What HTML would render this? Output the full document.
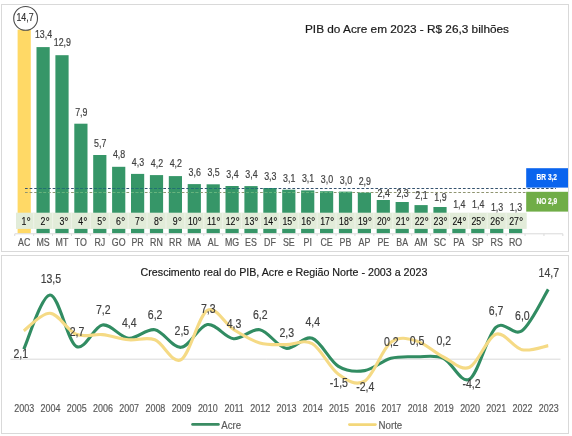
<!DOCTYPE html>
<html><head><meta charset="utf-8"><style>
html,body{margin:0;padding:0;background:#fff;}
svg{display:block;font-family:"Liberation Sans", sans-serif;will-change:transform;}
</style></head><body>
<svg width="572" height="436" viewBox="0 0 572 436">
<rect x="1.5" y="4.5" width="567" height="247" fill="#fff" stroke="#d9d9d9" stroke-width="1"/>
<rect x="1.5" y="255.5" width="567" height="178" fill="#fff" stroke="#d9d9d9" stroke-width="1"/>
<rect x="17.60" y="29.60" width="13.2" height="203.70" fill="#ffd966"/>
<rect x="36.50" y="47.10" width="13.2" height="186.20" fill="#369668"/>
<rect x="55.40" y="55.20" width="13.2" height="178.10" fill="#369668"/>
<rect x="74.30" y="123.70" width="13.2" height="109.60" fill="#369668"/>
<rect x="93.20" y="155.00" width="13.2" height="78.30" fill="#369668"/>
<rect x="112.10" y="166.80" width="13.2" height="66.50" fill="#369668"/>
<rect x="131.00" y="173.90" width="13.2" height="59.40" fill="#369668"/>
<rect x="149.90" y="175.10" width="13.2" height="58.20" fill="#369668"/>
<rect x="168.80" y="176.10" width="13.2" height="57.20" fill="#369668"/>
<rect x="187.70" y="184.10" width="13.2" height="49.20" fill="#369668"/>
<rect x="206.60" y="184.30" width="13.2" height="49.00" fill="#369668"/>
<rect x="225.50" y="186.00" width="13.2" height="47.30" fill="#369668"/>
<rect x="244.40" y="186.10" width="13.2" height="47.20" fill="#369668"/>
<rect x="263.30" y="188.00" width="13.2" height="45.30" fill="#369668"/>
<rect x="282.20" y="189.70" width="13.2" height="43.60" fill="#369668"/>
<rect x="301.10" y="190.40" width="13.2" height="42.90" fill="#369668"/>
<rect x="320.00" y="191.20" width="13.2" height="42.10" fill="#369668"/>
<rect x="338.90" y="191.60" width="13.2" height="41.70" fill="#369668"/>
<rect x="357.80" y="192.60" width="13.2" height="40.70" fill="#369668"/>
<rect x="376.70" y="200.00" width="13.2" height="33.30" fill="#369668"/>
<rect x="395.60" y="202.00" width="13.2" height="31.30" fill="#369668"/>
<rect x="414.50" y="205.10" width="13.2" height="28.20" fill="#369668"/>
<rect x="433.40" y="207.00" width="13.2" height="26.30" fill="#369668"/>
<rect x="452.30" y="213.94" width="13.2" height="19.36" fill="#369668"/>
<rect x="471.20" y="213.94" width="13.2" height="19.36" fill="#369668"/>
<rect x="490.10" y="215.32" width="13.2" height="17.98" fill="#369668"/>
<rect x="509.00" y="215.32" width="13.2" height="17.98" fill="#369668"/>
<line x1="25" y1="188.5" x2="556" y2="188.5" stroke="#34526e" stroke-width="1" stroke-dasharray="2.7 1.91"/>
<line x1="25" y1="192.5" x2="526" y2="192.5" stroke="#8f9470" stroke-width="1" stroke-dasharray="2.7 1.91"/>
<clipPath id="bc"><rect x="36.50" y="47.10" width="13.2" height="186.20"/><rect x="55.40" y="55.20" width="13.2" height="178.10"/><rect x="74.30" y="123.70" width="13.2" height="109.60"/><rect x="93.20" y="155.00" width="13.2" height="78.30"/><rect x="112.10" y="166.80" width="13.2" height="66.50"/><rect x="131.00" y="173.90" width="13.2" height="59.40"/><rect x="149.90" y="175.10" width="13.2" height="58.20"/><rect x="168.80" y="176.10" width="13.2" height="57.20"/><rect x="187.70" y="184.10" width="13.2" height="49.20"/><rect x="206.60" y="184.30" width="13.2" height="49.00"/><rect x="225.50" y="186.00" width="13.2" height="47.30"/><rect x="244.40" y="186.10" width="13.2" height="47.20"/><rect x="263.30" y="188.00" width="13.2" height="45.30"/><rect x="282.20" y="189.70" width="13.2" height="43.60"/><rect x="301.10" y="190.40" width="13.2" height="42.90"/><rect x="320.00" y="191.20" width="13.2" height="42.10"/><rect x="338.90" y="191.60" width="13.2" height="41.70"/><rect x="357.80" y="192.60" width="13.2" height="40.70"/><rect x="376.70" y="200.00" width="13.2" height="33.30"/><rect x="395.60" y="202.00" width="13.2" height="31.30"/><rect x="414.50" y="205.10" width="13.2" height="28.20"/><rect x="433.40" y="207.00" width="13.2" height="26.30"/></clipPath>
<g clip-path="url(#bc)"><line x1="25" y1="188.5" x2="556" y2="188.5" stroke="#1f7373" stroke-width="1" stroke-dasharray="2.7 1.91"/><line x1="25" y1="192.5" x2="526" y2="192.5" stroke="#62b77e" stroke-width="1" stroke-dasharray="2.7 1.91"/></g>
<rect x="16" y="212.7" width="510.7" height="16.2" fill="#e2ecd9"/>
<rect x="33.05" y="212.7" width="1.2" height="16.2" fill="#edf2e6"/>
<rect x="51.95" y="212.7" width="1.2" height="16.2" fill="#edf2e6"/>
<rect x="70.85" y="212.7" width="1.2" height="16.2" fill="#edf2e6"/>
<rect x="89.75" y="212.7" width="1.2" height="16.2" fill="#edf2e6"/>
<rect x="108.65" y="212.7" width="1.2" height="16.2" fill="#edf2e6"/>
<rect x="127.55" y="212.7" width="1.2" height="16.2" fill="#edf2e6"/>
<rect x="146.45" y="212.7" width="1.2" height="16.2" fill="#edf2e6"/>
<rect x="165.35" y="212.7" width="1.2" height="16.2" fill="#edf2e6"/>
<rect x="184.25" y="212.7" width="1.2" height="16.2" fill="#edf2e6"/>
<rect x="203.15" y="212.7" width="1.2" height="16.2" fill="#edf2e6"/>
<rect x="222.05" y="212.7" width="1.2" height="16.2" fill="#edf2e6"/>
<rect x="240.95" y="212.7" width="1.2" height="16.2" fill="#edf2e6"/>
<rect x="259.85" y="212.7" width="1.2" height="16.2" fill="#edf2e6"/>
<rect x="278.75" y="212.7" width="1.2" height="16.2" fill="#edf2e6"/>
<rect x="297.65" y="212.7" width="1.2" height="16.2" fill="#edf2e6"/>
<rect x="316.55" y="212.7" width="1.2" height="16.2" fill="#edf2e6"/>
<rect x="335.45" y="212.7" width="1.2" height="16.2" fill="#edf2e6"/>
<rect x="354.35" y="212.7" width="1.2" height="16.2" fill="#edf2e6"/>
<rect x="373.25" y="212.7" width="1.2" height="16.2" fill="#edf2e6"/>
<rect x="392.15" y="212.7" width="1.2" height="16.2" fill="#edf2e6"/>
<rect x="411.05" y="212.7" width="1.2" height="16.2" fill="#edf2e6"/>
<rect x="429.95" y="212.7" width="1.2" height="16.2" fill="#edf2e6"/>
<rect x="448.85" y="212.7" width="1.2" height="16.2" fill="#edf2e6"/>
<rect x="467.75" y="212.7" width="1.2" height="16.2" fill="#edf2e6"/>
<rect x="486.65" y="212.7" width="1.2" height="16.2" fill="#edf2e6"/>
<rect x="505.55" y="212.7" width="1.2" height="16.2" fill="#edf2e6"/>
<line x1="14.75" y1="233.8" x2="562.85" y2="233.8" stroke="#d9d9d9" stroke-width="1"/>
<line x1="14.75" y1="233.8" x2="14.75" y2="236" stroke="#d9d9d9" stroke-width="1"/>
<line x1="33.65" y1="233.8" x2="33.65" y2="236" stroke="#d9d9d9" stroke-width="1"/>
<line x1="52.55" y1="233.8" x2="52.55" y2="236" stroke="#d9d9d9" stroke-width="1"/>
<line x1="71.45" y1="233.8" x2="71.45" y2="236" stroke="#d9d9d9" stroke-width="1"/>
<line x1="90.35" y1="233.8" x2="90.35" y2="236" stroke="#d9d9d9" stroke-width="1"/>
<line x1="109.25" y1="233.8" x2="109.25" y2="236" stroke="#d9d9d9" stroke-width="1"/>
<line x1="128.15" y1="233.8" x2="128.15" y2="236" stroke="#d9d9d9" stroke-width="1"/>
<line x1="147.05" y1="233.8" x2="147.05" y2="236" stroke="#d9d9d9" stroke-width="1"/>
<line x1="165.95" y1="233.8" x2="165.95" y2="236" stroke="#d9d9d9" stroke-width="1"/>
<line x1="184.85" y1="233.8" x2="184.85" y2="236" stroke="#d9d9d9" stroke-width="1"/>
<line x1="203.75" y1="233.8" x2="203.75" y2="236" stroke="#d9d9d9" stroke-width="1"/>
<line x1="222.65" y1="233.8" x2="222.65" y2="236" stroke="#d9d9d9" stroke-width="1"/>
<line x1="241.55" y1="233.8" x2="241.55" y2="236" stroke="#d9d9d9" stroke-width="1"/>
<line x1="260.45" y1="233.8" x2="260.45" y2="236" stroke="#d9d9d9" stroke-width="1"/>
<line x1="279.35" y1="233.8" x2="279.35" y2="236" stroke="#d9d9d9" stroke-width="1"/>
<line x1="298.25" y1="233.8" x2="298.25" y2="236" stroke="#d9d9d9" stroke-width="1"/>
<line x1="317.15" y1="233.8" x2="317.15" y2="236" stroke="#d9d9d9" stroke-width="1"/>
<line x1="336.05" y1="233.8" x2="336.05" y2="236" stroke="#d9d9d9" stroke-width="1"/>
<line x1="354.95" y1="233.8" x2="354.95" y2="236" stroke="#d9d9d9" stroke-width="1"/>
<line x1="373.85" y1="233.8" x2="373.85" y2="236" stroke="#d9d9d9" stroke-width="1"/>
<line x1="392.75" y1="233.8" x2="392.75" y2="236" stroke="#d9d9d9" stroke-width="1"/>
<line x1="411.65" y1="233.8" x2="411.65" y2="236" stroke="#d9d9d9" stroke-width="1"/>
<line x1="430.55" y1="233.8" x2="430.55" y2="236" stroke="#d9d9d9" stroke-width="1"/>
<line x1="449.45" y1="233.8" x2="449.45" y2="236" stroke="#d9d9d9" stroke-width="1"/>
<line x1="468.35" y1="233.8" x2="468.35" y2="236" stroke="#d9d9d9" stroke-width="1"/>
<line x1="487.25" y1="233.8" x2="487.25" y2="236" stroke="#d9d9d9" stroke-width="1"/>
<line x1="506.15" y1="233.8" x2="506.15" y2="236" stroke="#d9d9d9" stroke-width="1"/>
<line x1="525.05" y1="233.8" x2="525.05" y2="236" stroke="#d9d9d9" stroke-width="1"/>
<line x1="543.95" y1="233.8" x2="543.95" y2="236" stroke="#d9d9d9" stroke-width="1"/>
<line x1="562.85" y1="233.8" x2="562.85" y2="236" stroke="#d9d9d9" stroke-width="1"/>
<text transform="translate(26.20,224.7) scale(0.86,1)" font-size="10.2" fill="#111111" stroke="#111111" stroke-width="0.12" text-anchor="middle">1<tspan font-size="12.5" dy="1.1">°</tspan></text>
<text transform="translate(45.10,224.7) scale(0.86,1)" font-size="10.2" fill="#111111" stroke="#111111" stroke-width="0.12" text-anchor="middle">2<tspan font-size="12.5" dy="1.1">°</tspan></text>
<text transform="translate(64.00,224.7) scale(0.86,1)" font-size="10.2" fill="#111111" stroke="#111111" stroke-width="0.12" text-anchor="middle">3<tspan font-size="12.5" dy="1.1">°</tspan></text>
<text transform="translate(82.90,224.7) scale(0.86,1)" font-size="10.2" fill="#111111" stroke="#111111" stroke-width="0.12" text-anchor="middle">4<tspan font-size="12.5" dy="1.1">°</tspan></text>
<text transform="translate(101.80,224.7) scale(0.86,1)" font-size="10.2" fill="#111111" stroke="#111111" stroke-width="0.12" text-anchor="middle">5<tspan font-size="12.5" dy="1.1">°</tspan></text>
<text transform="translate(120.70,224.7) scale(0.86,1)" font-size="10.2" fill="#111111" stroke="#111111" stroke-width="0.12" text-anchor="middle">6<tspan font-size="12.5" dy="1.1">°</tspan></text>
<text transform="translate(139.60,224.7) scale(0.86,1)" font-size="10.2" fill="#111111" stroke="#111111" stroke-width="0.12" text-anchor="middle">7<tspan font-size="12.5" dy="1.1">°</tspan></text>
<text transform="translate(158.50,224.7) scale(0.86,1)" font-size="10.2" fill="#111111" stroke="#111111" stroke-width="0.12" text-anchor="middle">8<tspan font-size="12.5" dy="1.1">°</tspan></text>
<text transform="translate(177.40,224.7) scale(0.86,1)" font-size="10.2" fill="#111111" stroke="#111111" stroke-width="0.12" text-anchor="middle">9<tspan font-size="12.5" dy="1.1">°</tspan></text>
<text transform="translate(194.90,224.7) scale(0.86,1)" font-size="10.2" fill="#111111" stroke="#111111" stroke-width="0.12" text-anchor="middle">10<tspan font-size="12.5" dy="1.1">°</tspan></text>
<text transform="translate(213.80,224.7) scale(0.86,1)" font-size="10.2" fill="#111111" stroke="#111111" stroke-width="0.12" text-anchor="middle">11<tspan font-size="12.5" dy="1.1">°</tspan></text>
<text transform="translate(232.70,224.7) scale(0.86,1)" font-size="10.2" fill="#111111" stroke="#111111" stroke-width="0.12" text-anchor="middle">12<tspan font-size="12.5" dy="1.1">°</tspan></text>
<text transform="translate(251.60,224.7) scale(0.86,1)" font-size="10.2" fill="#111111" stroke="#111111" stroke-width="0.12" text-anchor="middle">13<tspan font-size="12.5" dy="1.1">°</tspan></text>
<text transform="translate(270.50,224.7) scale(0.86,1)" font-size="10.2" fill="#111111" stroke="#111111" stroke-width="0.12" text-anchor="middle">14<tspan font-size="12.5" dy="1.1">°</tspan></text>
<text transform="translate(289.40,224.7) scale(0.86,1)" font-size="10.2" fill="#111111" stroke="#111111" stroke-width="0.12" text-anchor="middle">15<tspan font-size="12.5" dy="1.1">°</tspan></text>
<text transform="translate(308.30,224.7) scale(0.86,1)" font-size="10.2" fill="#111111" stroke="#111111" stroke-width="0.12" text-anchor="middle">16<tspan font-size="12.5" dy="1.1">°</tspan></text>
<text transform="translate(327.20,224.7) scale(0.86,1)" font-size="10.2" fill="#111111" stroke="#111111" stroke-width="0.12" text-anchor="middle">17<tspan font-size="12.5" dy="1.1">°</tspan></text>
<text transform="translate(346.10,224.7) scale(0.86,1)" font-size="10.2" fill="#111111" stroke="#111111" stroke-width="0.12" text-anchor="middle">18<tspan font-size="12.5" dy="1.1">°</tspan></text>
<text transform="translate(365.00,224.7) scale(0.86,1)" font-size="10.2" fill="#111111" stroke="#111111" stroke-width="0.12" text-anchor="middle">19<tspan font-size="12.5" dy="1.1">°</tspan></text>
<text transform="translate(383.90,224.7) scale(0.86,1)" font-size="10.2" fill="#111111" stroke="#111111" stroke-width="0.12" text-anchor="middle">20<tspan font-size="12.5" dy="1.1">°</tspan></text>
<text transform="translate(402.80,224.7) scale(0.86,1)" font-size="10.2" fill="#111111" stroke="#111111" stroke-width="0.12" text-anchor="middle">21<tspan font-size="12.5" dy="1.1">°</tspan></text>
<text transform="translate(421.70,224.7) scale(0.86,1)" font-size="10.2" fill="#111111" stroke="#111111" stroke-width="0.12" text-anchor="middle">22<tspan font-size="12.5" dy="1.1">°</tspan></text>
<text transform="translate(440.60,224.7) scale(0.86,1)" font-size="10.2" fill="#111111" stroke="#111111" stroke-width="0.12" text-anchor="middle">23<tspan font-size="12.5" dy="1.1">°</tspan></text>
<text transform="translate(459.50,224.7) scale(0.86,1)" font-size="10.2" fill="#111111" stroke="#111111" stroke-width="0.12" text-anchor="middle">24<tspan font-size="12.5" dy="1.1">°</tspan></text>
<text transform="translate(478.40,224.7) scale(0.86,1)" font-size="10.2" fill="#111111" stroke="#111111" stroke-width="0.12" text-anchor="middle">25<tspan font-size="12.5" dy="1.1">°</tspan></text>
<text transform="translate(497.30,224.7) scale(0.86,1)" font-size="10.2" fill="#111111" stroke="#111111" stroke-width="0.12" text-anchor="middle">26<tspan font-size="12.5" dy="1.1">°</tspan></text>
<text transform="translate(516.20,224.7) scale(0.86,1)" font-size="10.2" fill="#111111" stroke="#111111" stroke-width="0.12" text-anchor="middle">27<tspan font-size="12.5" dy="1.1">°</tspan></text>
<text transform="translate(24.20,246.00) scale(0.86,1)" font-size="10.3" fill="#595959" stroke="#595959" stroke-width="0.2" text-anchor="middle" font-weight="normal" >AC</text>
<text transform="translate(43.10,246.00) scale(0.86,1)" font-size="10.3" fill="#595959" stroke="#595959" stroke-width="0.2" text-anchor="middle" font-weight="normal" >MS</text>
<text transform="translate(62.00,246.00) scale(0.86,1)" font-size="10.3" fill="#595959" stroke="#595959" stroke-width="0.2" text-anchor="middle" font-weight="normal" >MT</text>
<text transform="translate(80.90,246.00) scale(0.86,1)" font-size="10.3" fill="#595959" stroke="#595959" stroke-width="0.2" text-anchor="middle" font-weight="normal" >TO</text>
<text transform="translate(99.80,246.00) scale(0.86,1)" font-size="10.3" fill="#595959" stroke="#595959" stroke-width="0.2" text-anchor="middle" font-weight="normal" >RJ</text>
<text transform="translate(118.70,246.00) scale(0.86,1)" font-size="10.3" fill="#595959" stroke="#595959" stroke-width="0.2" text-anchor="middle" font-weight="normal" >GO</text>
<text transform="translate(137.60,246.00) scale(0.86,1)" font-size="10.3" fill="#595959" stroke="#595959" stroke-width="0.2" text-anchor="middle" font-weight="normal" >PR</text>
<text transform="translate(156.50,246.00) scale(0.86,1)" font-size="10.3" fill="#595959" stroke="#595959" stroke-width="0.2" text-anchor="middle" font-weight="normal" >RN</text>
<text transform="translate(175.40,246.00) scale(0.86,1)" font-size="10.3" fill="#595959" stroke="#595959" stroke-width="0.2" text-anchor="middle" font-weight="normal" >RR</text>
<text transform="translate(194.30,246.00) scale(0.86,1)" font-size="10.3" fill="#595959" stroke="#595959" stroke-width="0.2" text-anchor="middle" font-weight="normal" >MA</text>
<text transform="translate(213.20,246.00) scale(0.86,1)" font-size="10.3" fill="#595959" stroke="#595959" stroke-width="0.2" text-anchor="middle" font-weight="normal" >AL</text>
<text transform="translate(232.10,246.00) scale(0.86,1)" font-size="10.3" fill="#595959" stroke="#595959" stroke-width="0.2" text-anchor="middle" font-weight="normal" >MG</text>
<text transform="translate(251.00,246.00) scale(0.86,1)" font-size="10.3" fill="#595959" stroke="#595959" stroke-width="0.2" text-anchor="middle" font-weight="normal" >ES</text>
<text transform="translate(269.90,246.00) scale(0.86,1)" font-size="10.3" fill="#595959" stroke="#595959" stroke-width="0.2" text-anchor="middle" font-weight="normal" >DF</text>
<text transform="translate(288.80,246.00) scale(0.86,1)" font-size="10.3" fill="#595959" stroke="#595959" stroke-width="0.2" text-anchor="middle" font-weight="normal" >SE</text>
<text transform="translate(307.70,246.00) scale(0.86,1)" font-size="10.3" fill="#595959" stroke="#595959" stroke-width="0.2" text-anchor="middle" font-weight="normal" >PI</text>
<text transform="translate(326.60,246.00) scale(0.86,1)" font-size="10.3" fill="#595959" stroke="#595959" stroke-width="0.2" text-anchor="middle" font-weight="normal" >CE</text>
<text transform="translate(345.50,246.00) scale(0.86,1)" font-size="10.3" fill="#595959" stroke="#595959" stroke-width="0.2" text-anchor="middle" font-weight="normal" >PB</text>
<text transform="translate(364.40,246.00) scale(0.86,1)" font-size="10.3" fill="#595959" stroke="#595959" stroke-width="0.2" text-anchor="middle" font-weight="normal" >AP</text>
<text transform="translate(383.30,246.00) scale(0.86,1)" font-size="10.3" fill="#595959" stroke="#595959" stroke-width="0.2" text-anchor="middle" font-weight="normal" >PE</text>
<text transform="translate(402.20,246.00) scale(0.86,1)" font-size="10.3" fill="#595959" stroke="#595959" stroke-width="0.2" text-anchor="middle" font-weight="normal" >BA</text>
<text transform="translate(421.10,246.00) scale(0.86,1)" font-size="10.3" fill="#595959" stroke="#595959" stroke-width="0.2" text-anchor="middle" font-weight="normal" >AM</text>
<text transform="translate(440.00,246.00) scale(0.86,1)" font-size="10.3" fill="#595959" stroke="#595959" stroke-width="0.2" text-anchor="middle" font-weight="normal" >SC</text>
<text transform="translate(458.90,246.00) scale(0.86,1)" font-size="10.3" fill="#595959" stroke="#595959" stroke-width="0.2" text-anchor="middle" font-weight="normal" >PA</text>
<text transform="translate(477.80,246.00) scale(0.86,1)" font-size="10.3" fill="#595959" stroke="#595959" stroke-width="0.2" text-anchor="middle" font-weight="normal" >SP</text>
<text transform="translate(496.70,246.00) scale(0.86,1)" font-size="10.3" fill="#595959" stroke="#595959" stroke-width="0.2" text-anchor="middle" font-weight="normal" >RS</text>
<text transform="translate(515.60,246.00) scale(0.86,1)" font-size="10.3" fill="#595959" stroke="#595959" stroke-width="0.2" text-anchor="middle" font-weight="normal" >RO</text>
<text transform="translate(43.50,37.70) scale(0.86,1)" font-size="10.3" fill="#404040" stroke="#404040" stroke-width="0.18" text-anchor="middle" font-weight="normal" >13,4</text>
<text transform="translate(62.40,45.70) scale(0.86,1)" font-size="10.3" fill="#404040" stroke="#404040" stroke-width="0.18" text-anchor="middle" font-weight="normal" >12,9</text>
<text transform="translate(81.30,115.90) scale(0.86,1)" font-size="10.3" fill="#404040" stroke="#404040" stroke-width="0.18" text-anchor="middle" font-weight="normal" >7,9</text>
<text transform="translate(100.20,147.20) scale(0.86,1)" font-size="10.3" fill="#404040" stroke="#404040" stroke-width="0.18" text-anchor="middle" font-weight="normal" >5,7</text>
<text transform="translate(119.10,158.20) scale(0.86,1)" font-size="10.3" fill="#404040" stroke="#404040" stroke-width="0.18" text-anchor="middle" font-weight="normal" >4,8</text>
<text transform="translate(138.00,166.00) scale(0.86,1)" font-size="10.3" fill="#404040" stroke="#404040" stroke-width="0.18" text-anchor="middle" font-weight="normal" >4,3</text>
<text transform="translate(156.90,166.60) scale(0.86,1)" font-size="10.3" fill="#404040" stroke="#404040" stroke-width="0.18" text-anchor="middle" font-weight="normal" >4,2</text>
<text transform="translate(175.80,167.30) scale(0.86,1)" font-size="10.3" fill="#404040" stroke="#404040" stroke-width="0.18" text-anchor="middle" font-weight="normal" >4,2</text>
<text transform="translate(194.70,175.90) scale(0.86,1)" font-size="10.3" fill="#404040" stroke="#404040" stroke-width="0.18" text-anchor="middle" font-weight="normal" >3,6</text>
<text transform="translate(213.60,175.90) scale(0.86,1)" font-size="10.3" fill="#404040" stroke="#404040" stroke-width="0.18" text-anchor="middle" font-weight="normal" >3,5</text>
<text transform="translate(232.50,178.40) scale(0.86,1)" font-size="10.3" fill="#404040" stroke="#404040" stroke-width="0.18" text-anchor="middle" font-weight="normal" >3,4</text>
<text transform="translate(251.40,178.40) scale(0.86,1)" font-size="10.3" fill="#404040" stroke="#404040" stroke-width="0.18" text-anchor="middle" font-weight="normal" >3,4</text>
<text transform="translate(270.30,179.60) scale(0.86,1)" font-size="10.3" fill="#404040" stroke="#404040" stroke-width="0.18" text-anchor="middle" font-weight="normal" >3,3</text>
<text transform="translate(289.20,181.50) scale(0.86,1)" font-size="10.3" fill="#404040" stroke="#404040" stroke-width="0.18" text-anchor="middle" font-weight="normal" >3,1</text>
<text transform="translate(308.10,181.50) scale(0.86,1)" font-size="10.3" fill="#404040" stroke="#404040" stroke-width="0.18" text-anchor="middle" font-weight="normal" >3,1</text>
<text transform="translate(327.00,183.00) scale(0.86,1)" font-size="10.3" fill="#404040" stroke="#404040" stroke-width="0.18" text-anchor="middle" font-weight="normal" >3,0</text>
<text transform="translate(345.90,183.90) scale(0.86,1)" font-size="10.3" fill="#404040" stroke="#404040" stroke-width="0.18" text-anchor="middle" font-weight="normal" >3,0</text>
<text transform="translate(364.80,184.80) scale(0.86,1)" font-size="10.3" fill="#404040" stroke="#404040" stroke-width="0.18" text-anchor="middle" font-weight="normal" >2,9</text>
<text transform="translate(383.70,196.50) scale(0.86,1)" font-size="10.3" fill="#404040" stroke="#404040" stroke-width="0.18" text-anchor="middle" font-weight="normal" >2,4</text>
<text transform="translate(402.60,196.50) scale(0.86,1)" font-size="10.3" fill="#404040" stroke="#404040" stroke-width="0.18" text-anchor="middle" font-weight="normal" >2,3</text>
<text transform="translate(421.50,198.90) scale(0.86,1)" font-size="10.3" fill="#404040" stroke="#404040" stroke-width="0.18" text-anchor="middle" font-weight="normal" >2,1</text>
<text transform="translate(440.40,200.50) scale(0.86,1)" font-size="10.3" fill="#404040" stroke="#404040" stroke-width="0.18" text-anchor="middle" font-weight="normal" >1,9</text>
<text transform="translate(459.30,208.00) scale(0.86,1)" font-size="10.3" fill="#404040" stroke="#404040" stroke-width="0.18" text-anchor="middle" font-weight="normal" >1,4</text>
<text transform="translate(478.20,208.00) scale(0.86,1)" font-size="10.3" fill="#404040" stroke="#404040" stroke-width="0.18" text-anchor="middle" font-weight="normal" >1,4</text>
<text transform="translate(497.10,210.70) scale(0.86,1)" font-size="10.3" fill="#404040" stroke="#404040" stroke-width="0.18" text-anchor="middle" font-weight="normal" >1,3</text>
<text transform="translate(516.00,210.70) scale(0.86,1)" font-size="10.3" fill="#404040" stroke="#404040" stroke-width="0.18" text-anchor="middle" font-weight="normal" >1,3</text>
<circle cx="25.6" cy="18.4" r="11.9" fill="#fff" stroke="#4a4a4a" stroke-width="1.1"/>
<text transform="translate(25.00,20.60) scale(0.86,1)" font-size="10.3" fill="#333333" stroke="#333333" stroke-width="0.18" text-anchor="middle" font-weight="normal" >14,7</text>
<text x="305" y="32.9" font-size="11.5" fill="#1a1a1a" stroke="#1a1a1a" stroke-width="0.2" textLength="204" lengthAdjust="spacingAndGlyphs">PIB do Acre em 2023 - R$ 26,3 bilhões</text>
<rect x="526.2" y="168.2" width="41.8" height="19.4" fill="#0a64ee"/>
<text transform="translate(546.80,180.20) scale(0.8,1)" font-size="8.2" fill="#ffffff" stroke="#ffffff" stroke-width="0.18" text-anchor="middle" font-weight="bold" >BR 3,2</text>
<rect x="526.2" y="191.8" width="41.8" height="19.8" fill="#70ad47"/>
<text transform="translate(546.80,204.30) scale(0.8,1)" font-size="8.2" fill="#ffffff" stroke="#ffffff" stroke-width="0.18" text-anchor="middle" font-weight="bold" >NO 2,9</text>
<text x="140.6" y="276" font-size="11.5" fill="#1a1a1a" stroke="#1a1a1a" stroke-width="0.2" textLength="286.8" lengthAdjust="spacingAndGlyphs">Crescimento real do PIB, Acre e Região Norte - 2003 a 2023</text>
<line x1="10.5" y1="359.2" x2="560.5" y2="359.2" stroke="#d9d9d9" stroke-width="1"/>
<path d="M23.75,349.22 C28.12,340.20 41.23,295.55 49.98,295.07 C58.72,294.60 67.46,341.39 76.20,346.38 C84.94,351.36 93.68,326.35 102.43,325.00 C111.17,323.65 119.91,337.51 128.65,338.30 C137.39,339.09 146.13,328.25 154.88,329.75 C163.62,331.25 172.36,348.20 181.10,347.32 C189.84,346.45 198.58,325.95 207.33,324.52 C216.07,323.10 224.81,337.90 233.55,338.77 C242.29,339.65 251.03,328.17 259.77,329.75 C268.52,331.33 277.26,346.85 286.00,348.27 C294.74,349.70 303.48,335.29 312.23,338.30 C320.97,341.31 329.71,360.94 338.45,366.32 C347.19,371.71 355.93,371.95 364.68,370.60 C373.42,369.25 382.16,360.55 390.90,358.25 C399.64,355.95 408.38,356.82 417.12,356.82 C425.87,356.82 434.61,354.53 443.35,358.25 C452.09,361.97 460.83,384.30 469.58,379.15 C478.32,374.00 487.06,335.45 495.80,327.38 C504.54,319.30 513.28,337.03 522.03,330.70 C530.77,324.37 543.88,296.26 548.25,289.38" fill="none" stroke="#318c62" stroke-width="3.1" stroke-linecap="butt" stroke-linejoin="round"/>
<path d="M23.75,330.79 C28.12,327.87 41.23,312.63 49.98,313.22 C58.72,313.81 67.46,330.75 76.20,334.31 C84.94,337.87 93.68,333.68 102.43,334.59 C111.17,335.51 119.91,338.95 128.65,339.82 C137.39,340.69 146.13,336.51 154.88,339.82 C163.62,343.13 172.36,364.58 181.10,359.68 C189.84,354.77 198.58,315.44 207.33,310.42 C216.07,305.39 224.81,324.10 233.55,329.51 C242.29,334.93 251.03,340.39 259.77,342.91 C268.52,345.42 277.26,344.50 286.00,344.62 C294.74,344.74 303.48,338.69 312.23,343.62 C320.97,348.55 329.71,367.97 338.45,374.21 C347.19,380.45 355.93,386.36 364.68,381.05 C373.42,375.74 382.16,348.99 390.90,342.34 C399.64,335.69 408.38,338.70 417.12,341.15 C425.87,343.60 434.61,352.66 443.35,357.01 C452.09,361.37 460.83,371.07 469.58,367.27 C478.32,363.47 487.06,337.14 495.80,334.21 C504.54,331.29 513.28,347.80 522.03,349.70 C530.77,351.60 543.88,346.30 548.25,345.62" fill="none" stroke="#f5da85" stroke-width="3.1" stroke-linecap="butt" stroke-linejoin="round"/>
<text transform="translate(20.70,358.40) scale(0.81,1)" font-size="13.0" fill="#404040" stroke="#404040" stroke-width="0.18" text-anchor="middle" font-weight="normal" >2,1</text>
<text transform="translate(50.90,283.30) scale(0.81,1)" font-size="13.0" fill="#404040" stroke="#404040" stroke-width="0.18" text-anchor="middle" font-weight="normal" >13,5</text>
<text transform="translate(77.00,335.70) scale(0.81,1)" font-size="13.0" fill="#404040" stroke="#404040" stroke-width="0.18" text-anchor="middle" font-weight="normal" >2,7</text>
<text transform="translate(103.20,313.60) scale(0.81,1)" font-size="13.0" fill="#404040" stroke="#404040" stroke-width="0.18" text-anchor="middle" font-weight="normal" >7,2</text>
<text transform="translate(129.30,326.50) scale(0.81,1)" font-size="13.0" fill="#404040" stroke="#404040" stroke-width="0.18" text-anchor="middle" font-weight="normal" >4,4</text>
<text transform="translate(155.10,318.60) scale(0.81,1)" font-size="13.0" fill="#404040" stroke="#404040" stroke-width="0.18" text-anchor="middle" font-weight="normal" >6,2</text>
<text transform="translate(181.90,335.30) scale(0.81,1)" font-size="13.0" fill="#404040" stroke="#404040" stroke-width="0.18" text-anchor="middle" font-weight="normal" >2,5</text>
<text transform="translate(208.20,313.00) scale(0.81,1)" font-size="13.0" fill="#404040" stroke="#404040" stroke-width="0.18" text-anchor="middle" font-weight="normal" >7,3</text>
<text transform="translate(234.00,327.50) scale(0.81,1)" font-size="13.0" fill="#404040" stroke="#404040" stroke-width="0.18" text-anchor="middle" font-weight="normal" >4,3</text>
<text transform="translate(260.30,318.60) scale(0.81,1)" font-size="13.0" fill="#404040" stroke="#404040" stroke-width="0.18" text-anchor="middle" font-weight="normal" >6,2</text>
<text transform="translate(286.80,336.50) scale(0.81,1)" font-size="13.0" fill="#404040" stroke="#404040" stroke-width="0.18" text-anchor="middle" font-weight="normal" >2,3</text>
<text transform="translate(312.70,326.10) scale(0.81,1)" font-size="13.0" fill="#404040" stroke="#404040" stroke-width="0.18" text-anchor="middle" font-weight="normal" >4,4</text>
<text transform="translate(338.90,386.90) scale(0.81,1)" font-size="13.0" fill="#404040" stroke="#404040" stroke-width="0.18" text-anchor="middle" font-weight="normal" >-1,5</text>
<text transform="translate(365.30,390.80) scale(0.81,1)" font-size="13.0" fill="#404040" stroke="#404040" stroke-width="0.18" text-anchor="middle" font-weight="normal" >-2,4</text>
<text transform="translate(391.40,345.80) scale(0.81,1)" font-size="13.0" fill="#404040" stroke="#404040" stroke-width="0.18" text-anchor="middle" font-weight="normal" >0,2</text>
<text transform="translate(417.10,345.30) scale(0.81,1)" font-size="13.0" fill="#404040" stroke="#404040" stroke-width="0.18" text-anchor="middle" font-weight="normal" >0,5</text>
<text transform="translate(443.70,345.30) scale(0.81,1)" font-size="13.0" fill="#404040" stroke="#404040" stroke-width="0.18" text-anchor="middle" font-weight="normal" >0,2</text>
<text transform="translate(471.50,388.10) scale(0.81,1)" font-size="13.0" fill="#404040" stroke="#404040" stroke-width="0.18" text-anchor="middle" font-weight="normal" >-4,2</text>
<text transform="translate(496.10,315.30) scale(0.81,1)" font-size="13.0" fill="#404040" stroke="#404040" stroke-width="0.18" text-anchor="middle" font-weight="normal" >6,7</text>
<text transform="translate(522.40,319.90) scale(0.81,1)" font-size="13.0" fill="#404040" stroke="#404040" stroke-width="0.18" text-anchor="middle" font-weight="normal" >6,0</text>
<text transform="translate(548.80,277.20) scale(0.81,1)" font-size="13.0" fill="#404040" stroke="#404040" stroke-width="0.18" text-anchor="middle" font-weight="normal" >14,7</text>
<text transform="translate(24.25,411.75) scale(0.8,1)" font-size="11.2" fill="#595959" stroke="#595959" stroke-width="0.18" text-anchor="middle" font-weight="normal" >2003</text>
<text transform="translate(50.48,411.75) scale(0.8,1)" font-size="11.2" fill="#595959" stroke="#595959" stroke-width="0.18" text-anchor="middle" font-weight="normal" >2004</text>
<text transform="translate(76.70,411.75) scale(0.8,1)" font-size="11.2" fill="#595959" stroke="#595959" stroke-width="0.18" text-anchor="middle" font-weight="normal" >2005</text>
<text transform="translate(102.93,411.75) scale(0.8,1)" font-size="11.2" fill="#595959" stroke="#595959" stroke-width="0.18" text-anchor="middle" font-weight="normal" >2006</text>
<text transform="translate(129.15,411.75) scale(0.8,1)" font-size="11.2" fill="#595959" stroke="#595959" stroke-width="0.18" text-anchor="middle" font-weight="normal" >2007</text>
<text transform="translate(155.38,411.75) scale(0.8,1)" font-size="11.2" fill="#595959" stroke="#595959" stroke-width="0.18" text-anchor="middle" font-weight="normal" >2008</text>
<text transform="translate(181.60,411.75) scale(0.8,1)" font-size="11.2" fill="#595959" stroke="#595959" stroke-width="0.18" text-anchor="middle" font-weight="normal" >2009</text>
<text transform="translate(207.83,411.75) scale(0.8,1)" font-size="11.2" fill="#595959" stroke="#595959" stroke-width="0.18" text-anchor="middle" font-weight="normal" >2010</text>
<text transform="translate(234.05,411.75) scale(0.8,1)" font-size="11.2" fill="#595959" stroke="#595959" stroke-width="0.18" text-anchor="middle" font-weight="normal" >2011</text>
<text transform="translate(260.27,411.75) scale(0.8,1)" font-size="11.2" fill="#595959" stroke="#595959" stroke-width="0.18" text-anchor="middle" font-weight="normal" >2012</text>
<text transform="translate(286.50,411.75) scale(0.8,1)" font-size="11.2" fill="#595959" stroke="#595959" stroke-width="0.18" text-anchor="middle" font-weight="normal" >2013</text>
<text transform="translate(312.73,411.75) scale(0.8,1)" font-size="11.2" fill="#595959" stroke="#595959" stroke-width="0.18" text-anchor="middle" font-weight="normal" >2014</text>
<text transform="translate(338.95,411.75) scale(0.8,1)" font-size="11.2" fill="#595959" stroke="#595959" stroke-width="0.18" text-anchor="middle" font-weight="normal" >2015</text>
<text transform="translate(365.18,411.75) scale(0.8,1)" font-size="11.2" fill="#595959" stroke="#595959" stroke-width="0.18" text-anchor="middle" font-weight="normal" >2016</text>
<text transform="translate(391.40,411.75) scale(0.8,1)" font-size="11.2" fill="#595959" stroke="#595959" stroke-width="0.18" text-anchor="middle" font-weight="normal" >2017</text>
<text transform="translate(417.62,411.75) scale(0.8,1)" font-size="11.2" fill="#595959" stroke="#595959" stroke-width="0.18" text-anchor="middle" font-weight="normal" >2018</text>
<text transform="translate(443.85,411.75) scale(0.8,1)" font-size="11.2" fill="#595959" stroke="#595959" stroke-width="0.18" text-anchor="middle" font-weight="normal" >2019</text>
<text transform="translate(470.08,411.75) scale(0.8,1)" font-size="11.2" fill="#595959" stroke="#595959" stroke-width="0.18" text-anchor="middle" font-weight="normal" >2020</text>
<text transform="translate(496.30,411.75) scale(0.8,1)" font-size="11.2" fill="#595959" stroke="#595959" stroke-width="0.18" text-anchor="middle" font-weight="normal" >2021</text>
<text transform="translate(522.53,411.75) scale(0.8,1)" font-size="11.2" fill="#595959" stroke="#595959" stroke-width="0.18" text-anchor="middle" font-weight="normal" >2022</text>
<text transform="translate(548.75,411.75) scale(0.8,1)" font-size="11.2" fill="#595959" stroke="#595959" stroke-width="0.18" text-anchor="middle" font-weight="normal" >2023</text>
<line x1="192.6" y1="424.4" x2="218.4" y2="424.4" stroke="#3a8c63" stroke-width="2.8" stroke-linecap="round"/>
<text transform="translate(221.20,428.80) scale(0.83,1)" font-size="11.7" fill="#595959" stroke="#595959" stroke-width="0.18" text-anchor="start" font-weight="normal" >Acre</text>
<line x1="349.4" y1="424.6" x2="375.4" y2="424.6" stroke="#f3d77a" stroke-width="2.8" stroke-linecap="round"/>
<text transform="translate(378.50,428.80) scale(0.83,1)" font-size="11.7" fill="#595959" stroke="#595959" stroke-width="0.18" text-anchor="start" font-weight="normal" >Norte</text>
</svg>
</body></html>
